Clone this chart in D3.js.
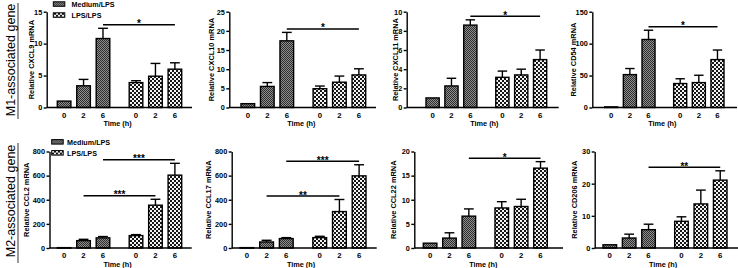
<!DOCTYPE html>
<html>
<head>
<meta charset="utf-8">
<script src="https://cdn.jsdelivr.net/npm/d3@7"></script>
<style>
	body { margin: 0; background: #fff; }
	svg { display: block; font-family: "Liberation Sans", Arial, sans-serif; }
	.axis text { font-weight: bold; font-size: 7.3px; fill: #000; }
	.axis path, .axis line { stroke: #000; stroke-width: 1.4; }
</style>
</head>
<body>
<svg id="chart" width="738" height="268"></svg>
<script>
const groups = ['Medium/LPS', 'LPS/LPS'];
const times = ['0', '2', '6'];
const genes = ['CXCL9', 'CXCL10', 'CXCL11', 'CD54', 'CCL2', 'CCL17', 'CCL22', 'CD206'];
const rowLabels = ['M1-associated gene', 'M2-associated gene'];

// values: Medium/LPS 0,2,6 h then LPS/LPS 0,2,6 h
const cxcl9Mean = [1.0, 3.4, 10.8, 3.9, 4.9, 6.0];
const cxcl9Sd = [0, 1.0, 1.6, 0.3, 2.0, 1.0];
const cxcl10Mean = [1.0, 5.5, 17.4, 4.9, 6.6, 8.5];
const cxcl10Sd = [0, 1.0, 2.2, 0.7, 1.6, 1.6];
const cxcl11Mean = [1.0, 2.25, 8.6, 3.15, 3.4, 5.0];
const cxcl11Sd = [0, 0.8, 0.55, 0.65, 0.6, 1.0];
const cd54Mean = [1, 51.5, 106.5, 37.5, 39, 75];
const cd54Sd = [0, 9.5, 14.5, 7.5, 11.5, 15];
const ccl2Mean = [3, 61, 84, 103, 355, 604];
const ccl2Sd = [0, 11, 11, 8, 49, 98];
const ccl17Mean = [3, 50, 78, 86, 302, 598];
const ccl17Sd = [0, 14, 8, 11, 100, 92];
const ccl22Mean = [1.0, 2.05, 6.6, 8.3, 8.6, 16.55];
const ccl22Sd = [0, 1.1, 1.5, 1.3, 1.5, 1.35];
const cd206Mean = [1.0, 3.1, 5.7, 8.3, 13.7, 21.1];
const cd206Sd = [0, 1.2, 1.7, 1.4, 4.3, 2.9];

const cxcl9Ticks = [0, 5, 10, 15];
const cxcl10Ticks = [0, 5, 10, 15, 20, 25];
const cxcl11Ticks = [0, 2, 4, 6, 8, 10];
const cd54Ticks = [0, 50, 100, 150];
const ccl2Ticks = [0, 200, 400, 600, 800];
const ccl17Ticks = [0, 200, 400, 600, 800];
const ccl22Ticks = [0, 5, 10, 15, 20];
const cd206Ticks = [0, 10, 20, 30];

// significance: [time compared between groups, label]
const cxcl9Sig = [['6', '*']];
const cxcl10Sig = [['6', '*']];
const cxcl11Sig = [['6', '*']];
const cd54Sig = [['6', '*']];
const ccl2Sig = [['2', '***'], ['6', '***']];
const ccl17Sig = [['2', '**'], ['6', '***']];
const ccl22Sig = [['6', '*']];
const cd206Sig = [['6', '**']];

const means = [cxcl9Mean, cxcl10Mean, cxcl11Mean, cd54Mean, ccl2Mean, ccl17Mean, ccl22Mean, cd206Mean];
const sds = [cxcl9Sd, cxcl10Sd, cxcl11Sd, cd54Sd, ccl2Sd, ccl17Sd, ccl22Sd, cd206Sd];
const tickSets = [cxcl9Ticks, cxcl10Ticks, cxcl11Ticks, cd54Ticks, ccl2Ticks, ccl17Ticks, ccl22Ticks, cd206Ticks];
const sigSets = [cxcl9Sig, cxcl10Sig, cxcl11Sig, cd54Sig, ccl2Sig, ccl17Sig, ccl22Sig, cd206Sig];

// page layout (pixels)
const rows = [
	{ top: 11.7, zero: 107.5, labelY: 60, lineY: [3, 119], legend: { x: 53.3, y: 1.8, tx: 71.5 } },
	{ top: 151.5, zero: 248, labelY: 201, lineY: [143, 263], legend: { x: 51.7, y: 139.6, tx: 67 } }
];
const boxes = [
	{ axisX: 46.7, xEnd: 192, b0: 57.3, b1: 181.7, labelX: 31.5, row: 0 },
	{ axisX: 229.3, xEnd: 376, b0: 241, b1: 365.7, labelX: 211.5, row: 0 },
	{ axisX: 406.7, xEnd: 558.7, b0: 426, b1: 546.7, labelX: 395, row: 0 },
	{ axisX: 592.3, xEnd: 737, b0: 604.7, b1: 724, labelX: 573, row: 0 },
	{ axisX: 49.5, xEnd: 191.7, b0: 57.3, b1: 181.7, labelX: 26.7, row: 1 },
	{ axisX: 231.7, xEnd: 376.7, b0: 240, b1: 366, labelX: 208, row: 1 },
	{ axisX: 414.3, xEnd: 563, b0: 423.3, b1: 547.3, labelX: 393, row: 1 },
	{ axisX: 594.7, xEnd: 738, b0: 603, b1: 727, labelX: 574, row: 1 }
];

const svg = d3.select('#chart');

const makePatterns = () => {
	const defs = svg.append('defs');

	// fine dark checker for Medium/LPS
	const med = defs.append('pattern')
		.attr('id', 'pat-med')
		.attr('patternUnits', 'userSpaceOnUse')
		.attr('width', 2).attr('height', 2);
	med.append('rect').attr('width', 2).attr('height', 2).attr('fill', '#8e8e8e');
	med.append('rect').attr('width', 1).attr('height', 1).attr('fill', '#2e2e2e');
	med.append('rect').attr('x', 1).attr('y', 1).attr('width', 1).attr('height', 1).attr('fill', '#2e2e2e');

	// coarse black/white checker for LPS/LPS
	const lps = defs.append('pattern')
		.attr('id', 'pat-lps')
		.attr('patternUnits', 'userSpaceOnUse')
		.attr('width', 4).attr('height', 4);
	lps.append('rect').attr('width', 4).attr('height', 4).attr('fill', '#161616');
	lps.append('rect').attr('width', 2).attr('height', 2).attr('fill', '#f4f4f4');
	lps.append('rect').attr('x', 2).attr('y', 2).attr('width', 2).attr('height', 2).attr('fill', '#f4f4f4');
};

const fillScale = d3.scaleOrdinal()
	.domain(groups)
	.range(['url(#pat-med)', 'url(#pat-lps)']);

const createPanel = (i) => {
	const box = boxes[i];
	const row = rows[box.row];
	const mean = means[i];
	const sd = sds[i];
	const ticks = tickSets[i];

	const x0 = d3.scaleBand().domain(groups).range([box.b0, box.b1]).paddingInner(0.27).paddingOuter(0);
	const x1 = d3.scaleBand().domain(times).range([0, x0.bandwidth()]).paddingInner(0.3).paddingOuter(0);
	const y = d3.scaleLinear().domain([0, d3.max(ticks)]).range([row.zero, row.top]);

	const records = groups.flatMap((g, gi) => times.map((t, ti) => ({
		group: g, time: t, value: mean[gi * 3 + ti], sd: sd[gi * 3 + ti]
	})));
	const cx = d => x0(d.group) + x1(d.time) + x1.bandwidth() / 2;

	const g = svg.append('g').attr('class', 'panel');

	// error bars (upper only)
	const err = g.selectAll('.err').data(records.filter(d => d.sd > 0)).join('g').attr('class', 'err')
		.attr('stroke', '#000').attr('stroke-width', 1.4);
	err.append('line')
		.attr('x1', cx).attr('x2', cx)
		.attr('y1', d => y(d.value)).attr('y2', d => y(d.value + d.sd));
	err.append('line')
		.attr('x1', d => cx(d) - x1.bandwidth() * 0.36).attr('x2', d => cx(d) + x1.bandwidth() * 0.36)
		.attr('y1', d => y(d.value + d.sd)).attr('y2', d => y(d.value + d.sd));

	g.selectAll('.bar').data(records).join('rect').attr('class', 'bar')
		.attr('x', d => x0(d.group) + x1(d.time))
		.attr('width', x1.bandwidth())
		.attr('y', d => y(d.value))
		.attr('height', d => Math.max(0.5, y(0) - y(d.value)))
		.attr('fill', d => fillScale(d.group))
		.attr('stroke', '#000')
		.attr('stroke-width', 1.4);

	// y axis
	g.append('g').attr('class', 'axis')
		.attr('transform', 'translate(' + box.axisX + ',0)')
		.call(d3.axisLeft(y).tickValues(ticks).tickSize(3).tickSizeOuter(0).tickPadding(1.5));

	// x axis line and time labels
	g.append('line')
		.attr('x1', box.axisX).attr('x2', box.xEnd)
		.attr('y1', y(0)).attr('y2', y(0))
		.attr('stroke', '#000').attr('stroke-width', 1.6);

	groups.forEach(gr => {
		const xa = g.append('g').attr('class', 'axis')
			.attr('transform', 'translate(' + x0(gr) + ',' + y(0) + ')')
			.call(d3.axisBottom(x1).tickSize(0).tickPadding(4.5));
		xa.select('.domain').remove();
		xa.selectAll('text').style('font-size', '7.8px');
	});

	g.append('text')
		.attr('x', (box.b0 + box.b1) / 2 - 2)
		.attr('y', y(0) + 18.5)
		.attr('text-anchor', 'middle')
		.attr('font-size', 7.3)
		.attr('font-weight', 'bold')
		.text('Time (h)');

	g.append('text')
		.attr('transform', 'translate(' + box.labelX + ',' + (row.top + row.zero) / 2 + ') rotate(-90)')
		.attr('text-anchor', 'middle')
		.attr('dy', '0.35em')
		.attr('font-size', 7.4)
		.attr('font-weight', 'bold')
		.text('Relative ' + genes[i] + ' mRNA');

	// significance brackets
	sigSets[i].forEach(([t, label]) => {
		const a = records.find(d => d.group === groups[0] && d.time === t);
		const b = records.find(d => d.group === groups[1] && d.time === t);
		const ly = Math.min(y(a.value + a.sd), y(b.value + b.sd)) - 3.5;
		g.append('line')
			.attr('x1', cx(a)).attr('x2', cx(b))
			.attr('y1', ly).attr('y2', ly)
			.attr('stroke', '#000').attr('stroke-width', 1.5);
		g.append('text')
			.attr('x', (cx(a) + cx(b)) / 2)
			.attr('y', ly + 2.6)
			.attr('text-anchor', 'middle')
			.attr('font-size', 10)
			.attr('font-weight', 'bold')
			.text(label);
	});
};

const createLegend = (row) => {
	const lg = svg.append('g').attr('class', 'legend');
	const item = lg.selectAll('g').data(groups).join('g')
		.attr('transform', (d, k) => 'translate(0,' + (row.legend.y + k * 11) + ')');
	item.append('rect')
		.attr('x', row.legend.x)
		.attr('width', 11.5).attr('height', 4.5)
		.attr('fill', d => fillScale(d))
		.attr('stroke', '#000').attr('stroke-width', 1);
	item.append('text')
		.attr('x', row.legend.tx)
		.attr('y', 5)
		.attr('font-size', 7.2)
		.attr('font-weight', 'bold')
		.text(d => d);
};

const createRowLabels = () => {
	rows.forEach((row, r) => {
		svg.append('text')
			.attr('transform', 'translate(14.5,' + row.labelY + ') rotate(-90)')
			.attr('text-anchor', 'middle')
			.attr('font-size', 12.5)
			.text(rowLabels[r]);
		svg.append('line')
			.attr('x1', 18).attr('x2', 18)
			.attr('y1', row.lineY[0]).attr('y2', row.lineY[1])
			.attr('stroke', '#000').attr('stroke-width', 0.8);
	});
};

makePatterns();
genes.forEach((gene, i) => createPanel(i));
rows.forEach(createLegend);
createRowLabels();
</script>
</body>
</html>
